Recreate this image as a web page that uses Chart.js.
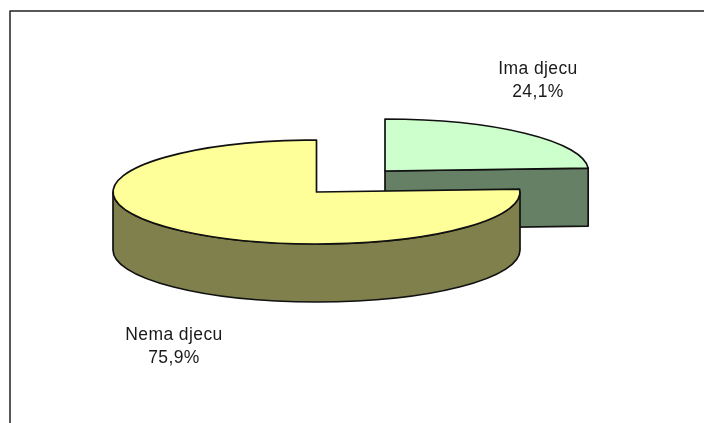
<!DOCTYPE html>
<html><head><meta charset="utf-8">
<style>html,body{margin:0;padding:0;background:#fff}canvas{display:block}</style>
<script src="https://cdn.jsdelivr.net/npm/chart.js@4"></script></head>
<body><div style="width:704px;height:423px"><canvas id="c" width="704" height="423"></canvas></div>
<script>
const categories = ['Ima djecu', 'Nema djecu'];
const shares = [24.1, 75.9];
const shareLabels = ['24,1%', '75,9%'];
const topColors = ['#CCFFCC', '#FFFF99'];
const sideColors = ['#668066', '#80804D'];

const TILT = 52 / 203.5, DEPTH = 58;
const CENTER = {x: 316.5, y: 192};
const SHIFT = [{x: 68.5, y: -21}, {x: 0, y: 0}];
const LABEL_POS = [{x: 538, y: 74}, {x: 174, y: 340}];
const LINE_PITCH = 23;
const LINE = '#111';
const LW = 1.7;

function sliceDepth(ctx, arc, i) {
  const s = SHIFT[i];
  const cx = CENTER.x + s.x, cy = CENTER.y + s.y, r = arc.outerRadius, ry = r * TILT;
  const a0 = arc.startAngle, a1 = arc.endAngle;
  ctx.lineWidth = LW; ctx.strokeStyle = LINE; ctx.lineJoin = 'round';
  ctx.fillStyle = sideColors[i];
  // cut face turned to the viewer: the end cut when it points to the right side
  if (Math.cos(a1) > 0.5 && Math.cos(a1) * Math.sin(a1) < 0 && a1 - a0 < Math.PI) {
    const q = {x: cx + r * Math.cos(a1), y: cy + ry * Math.sin(a1)};
    ctx.beginPath();
    ctx.moveTo(cx, cy); ctx.lineTo(q.x, q.y);
    ctx.lineTo(q.x, q.y + DEPTH); ctx.lineTo(cx, cy + DEPTH); ctx.closePath();
    ctx.fill(); ctx.stroke();
  }
  // front rim: the part of the slice that lies in the lower half of the ellipse
  const TAU = 2 * Math.PI;
  for (let k = -1; k <= 1; k++) {
    const b = Math.max(a0, k * TAU), e = Math.min(a1, k * TAU + Math.PI);
    if (e <= b) continue;
    ctx.beginPath();
    ctx.ellipse(cx, cy, r, ry, 0, b, e);
    ctx.lineTo(cx + r * Math.cos(e), cy + ry * Math.sin(e) + DEPTH);
    ctx.ellipse(cx, cy + DEPTH, r, ry, 0, e, b, true);
    ctx.closePath();
    ctx.fill(); ctx.stroke();
  }
}
const pie3d = {
  id: 'pie3d',
  beforeDatasetsDraw(chart) {
    const ctx = chart.ctx, arcs = chart.getDatasetMeta(0).data;
    [0, 1].forEach(i => {
      const arc = arcs[i], s = SHIFT[i];
      const cx = CENTER.x + s.x, cy = CENTER.y + s.y;
      sliceDepth(ctx, arc, i);
      ctx.save();
      ctx.translate(cx, cy);
      ctx.scale(1, TILT);
      ctx.translate(-arc.x, -arc.y);
      arc.draw(ctx);
      ctx.restore();
      ctx.save();
      ctx.beginPath();
      ctx.moveTo(cx, cy);
      ctx.ellipse(cx, cy, arc.outerRadius, arc.outerRadius * TILT, 0, arc.startAngle, arc.endAngle);
      ctx.closePath();
      ctx.lineWidth = LW; ctx.strokeStyle = LINE; ctx.lineJoin = 'round'; ctx.stroke();
      ctx.restore();
    });
    return false;
  },
  afterDraw(chart) {
    const ctx = chart.ctx;
    ctx.save();
    ctx.fillStyle = '#1a1a1a'; ctx.textAlign = 'center'; ctx.textBaseline = 'alphabetic';
    ctx.font = '17.5px "Liberation Sans", Arial, sans-serif';
    ctx.letterSpacing = '0.4px';
    categories.forEach((c, i) => {
      ctx.fillText(c, LABEL_POS[i].x, LABEL_POS[i].y);
      ctx.fillText(shareLabels[i], LABEL_POS[i].x, LABEL_POS[i].y + LINE_PITCH);
    });
    ctx.strokeStyle = '#222'; ctx.lineWidth = 1.5;
    ctx.beginPath(); ctx.moveTo(10, 423); ctx.lineTo(10, 11); ctx.lineTo(704, 11); ctx.stroke();
    ctx.restore();
  }
};
new Chart(document.getElementById('c'), {
  type: 'pie',
  data: { labels: categories, datasets: [{ data: shares, backgroundColor: topColors, borderWidth: 0 }] },
  options: {
    responsive: false, animation: false, radius: 203.5,
    plugins: { legend: {display: false}, tooltip: {enabled: false} }
  },
  plugins: [pie3d]
});
</script></body></html>
